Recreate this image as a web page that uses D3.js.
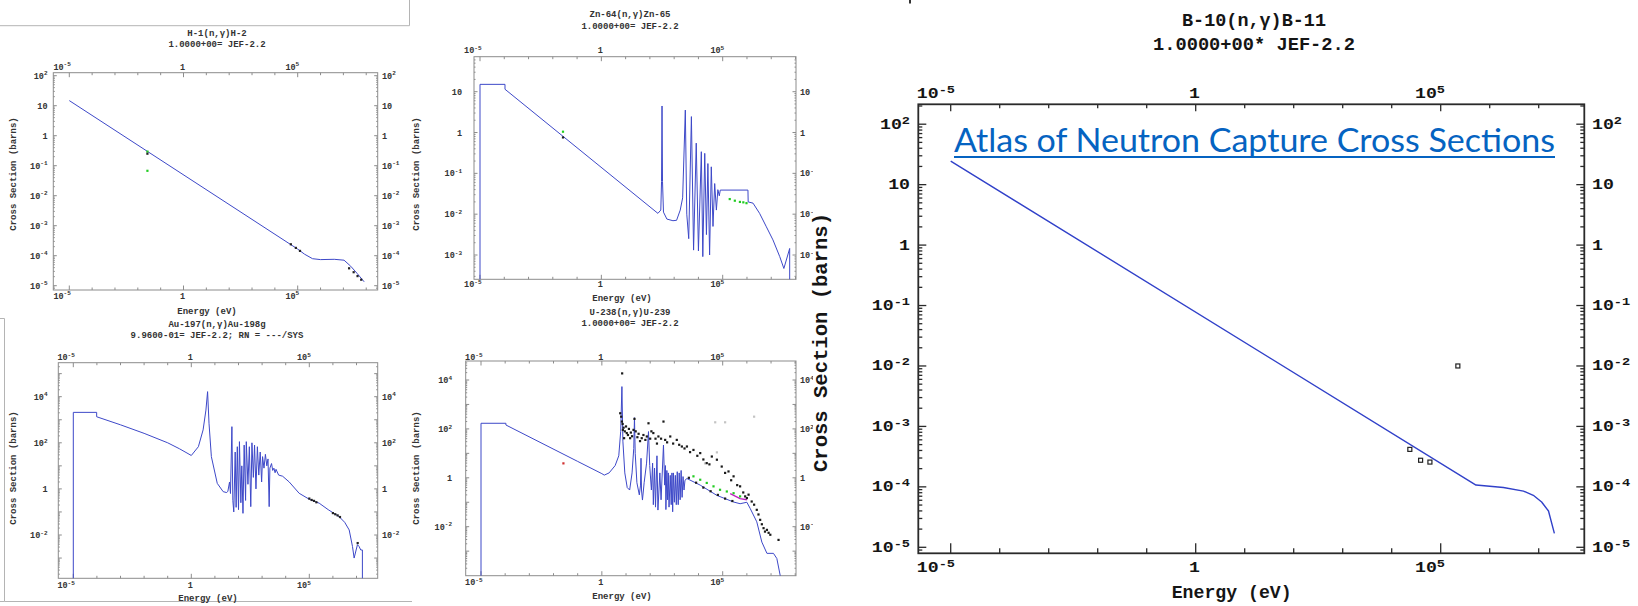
<!DOCTYPE html>
<html>
<head>
<meta charset="utf-8">
<script src="https://cdn.jsdelivr.net/npm/d3@7/dist/d3.min.js"></script>
<style>
  html, body { margin: 0; padding: 0; background: #ffffff; }
  svg { display: block; }
</style>
</head>
<body>
<svg id="atlas" width="1638" height="606"></svg>
<script>
// All series are [log10 energy (eV), log10 cross section (barns)].
// A value of -9 just means "drops off the bottom of the frame".

// H-1(n,g)H-2
var h1Curve = [[-5, 1.17], [5, -3.78], [5.3, -3.95], [5.65, -4.1], [6, -4.13], [6.6, -4.12],
  [7.03, -4.15], [7.32, -4.35], [7.6, -4.59], [7.91, -4.87]];
var h1Green = [[-1.58, -0.53], [-1.58, -1.17]];
var h1Black = [[-1.58, -0.6], [4.7, -3.62], [4.92, -3.74], [5.1, -3.84],
  [7.25, -4.42], [7.45, -4.55], [7.62, -4.68], [7.78, -4.8]];

// Zn-64(n,g)Zn-65
var zn64Curve = [[-5, -9], [-5, 1.18], [-3.97, 1.18], [-3.97, 1.06], [2.33, -1.98], [2.45, -1.9],
  [2.48, -1.2], [2.5, 0.65], [2.52, -1.2], [2.56, -1.95], [2.7, -2.12], [2.95, -2.16], [3.1, -2.15],
  [3.25, -1.9], [3.35, -1.6], [3.46, 0.55], [3.52, -2.0], [3.6, -2.6], [3.71, 0.39], [3.8, -2.88],
  [3.91, -0.26], [4.0, -2.9], [4.12, -0.47], [4.18, -3.04], [4.26, -0.51], [4.33, -2.5],
  [4.39, -0.76], [4.46, -3.0], [4.53, -0.84], [4.6, -2.3], [4.67, -1.25], [4.74, -1.9],
  [4.8, -1.4], [4.86, -1.55], [4.9, -1.41], [6.04, -1.41], [6.05, -1.7], [6.25, -1.73],
  [6.52, -1.98], [6.8, -2.31], [7.07, -2.63], [7.35, -3.04], [7.52, -3.33], [7.76, -2.84], [7.76, -9]];
var zn64Green = [[-1.58, 0.02], [5.29, -1.63], [5.5, -1.67], [5.71, -1.7], [5.85, -1.71], [5.98, -1.73]];
var zn64Black = [[-1.58, -0.12]];

// Au-197(n,g)Au-198g
var au197Curve = [[-5, -9], [-5, 3.32], [-4.01, 3.32], [-4.01, 3.13], [-3, 2.78], [-2, 2.41],
  [-1, 2.0], [-0.5, 1.74], [0, 1.45], [0.3, 1.83], [0.5, 2.56], [0.62, 3.42], [0.69, 4.22],
  [0.75, 2.85], [0.85, 1.4], [1.1, 0.24], [1.35, -0.12], [1.5, -0.16], [1.55, -0.1], [1.62, 0.3],
  [1.66, -0.2], [1.72, 2.7], [1.76, -0.5], [1.8, -1.0], [1.86, 1.6], [1.9, -0.8], [1.95, 1.83],
  [2.0, -0.9], [2.04, 2.05], [2.1, -0.6], [2.14, 1.0], [2.19, -1.06], [2.24, 1.9], [2.3, -0.5],
  [2.33, 2.05], [2.4, 0.2], [2.46, 1.83], [2.52, -0.77], [2.57, 2.0], [2.63, 0.5], [2.68, 1.9],
  [2.74, 0.0], [2.8, 1.83], [2.86, 0.6], [2.92, 1.6], [2.98, 0.3], [3.02, 1.4], [3.08, 0.9],
  [3.14, 1.5], [3.2, 1.0], [3.25, 1.3], [3.3, -0.77], [3.33, 0.9], [3.4, 1.1], [3.45, 0.8],
  [3.5, 0.9], [3.55, 0.7], [3.59, 0.85], [3.7, 0.6], [3.87, 0.55], [4.15, 0.3], [4.57, -0.19],
  [5.0, -0.45], [5.42, -0.62], [5.8, -0.9], [6.26, -1.2], [6.5, -1.45], [6.69, -1.78], [6.83, -2.5],
  [6.9, -3.0], [7.04, -2.42], [7.11, -2.5], [7.18, -2.65], [7.25, -2.65], [7.25, -9]];
var au197Black = [[5.0, -0.42], [5.1, -0.48], [5.2, -0.52], [5.3, -0.58], [6.0, -1.05],
  [6.1, -1.1], [6.2, -1.15], [6.3, -1.22], [7.05, -2.35]];

// U-238(n,g)U-239
var u238Curve = [[-5, -9], [-5, 2.23], [-3.97, 2.23], [-3.97, 2.16], [-1, 0.67], [0, 0.17], [0.1, 0.11],
  [0.3, 0.2], [0.55, 0.5], [0.7, 0.9], [0.78, 1.9], [0.83, 3.73], [0.87, 1.5], [0.95, 0.2],
  [1.05, -0.4], [1.15, -0.5], [1.25, 0.2], [1.32, 1.2], [1.35, 2.46], [1.38, 1.0], [1.45, -0.2],
  [1.55, -0.7], [1.6, -0.3], [1.62, 0.8], [1.64, -0.5], [1.68, -0.91], [1.75, -0.2], [1.85, 0.6],
  [1.93, 1.89], [1.98, 0.5], [2.05, -0.5], [2.1, 0.6], [2.13, -1.1], [2.18, 0.4], [2.22, -1.2],
  [2.28, 0.9], [2.32, -1.32], [2.4, 0.2], [2.45, -0.9], [2.55, 1.34], [2.6, -0.3], [2.63, 0.5],
  [2.65, -1.3], [2.69, 0.3], [2.72, -0.9], [2.75, 0.2], [2.78, -1.2], [2.83, 0.1], [2.87, -1.1],
  [2.9, 0.2], [2.93, -1.39], [2.96, 0.2], [3.0, -1.0], [3.04, 0.1], [3.08, -1.1], [3.12, 0.25],
  [3.16, -1.1], [3.2, 0.2], [3.24, -0.9], [3.28, 0.3], [3.32, -0.8], [3.36, 0.05], [3.4, -0.5],
  [3.44, -0.1], [3.52, -0.03], [4.07, -0.3], [4.76, -0.72], [5.45, -0.99], [5.72, -1.06],
  [6.0, -1.0], [6.14, -1.26], [6.41, -1.8], [6.62, -2.63], [6.83, -3.09], [7.1, -3.09],
  [7.24, -3.3], [7.38, -4.0], [7.38, -9]];
var u238Black = [[0.84, 4.27], [0.76, 2.64], [0.8, 2.5], [0.83, 2.3], [0.86, 2.2], [0.87, 1.96],
  [0.9, 2.05], [0.92, 1.62], [0.95, 1.9], [1.0, 2.1], [1.03, 1.83], [1.08, 1.75], [1.12, 2.0],
  [1.17, 1.62], [1.2, 1.85], [1.25, 1.7], [1.31, 1.96], [1.35, 2.41], [1.4, 1.9], [1.47, 1.66],
  [1.52, 1.8], [1.58, 1.5], [1.65, 1.62], [1.72, 1.75], [1.8, 1.55], [1.86, 1.69], [1.93, 2.23],
  [2.0, 1.6], [2.05, 1.9], [2.13, 1.83], [2.22, 1.6], [2.28, 1.4], [2.34, 1.69], [2.45, 1.6],
  [2.55, 2.3], [2.62, 1.55], [2.7, 1.45], [2.83, 1.69], [2.95, 1.4], [3.1, 1.55], [3.2, 1.35],
  [3.31, 1.28], [3.42, 1.2], [3.52, 1.28], [3.65, 1.05], [3.79, 1.14], [3.95, 0.9], [4.07, 1.01],
  [4.2, 0.75], [4.34, 0.6], [4.45, 0.55], [4.55, 0.87], [4.76, 0.74], [4.96, 0.46], [5.1, 0.2],
  [5.24, 0.26], [5.35, -0.1], [5.45, 0.06], [5.6, -0.3], [5.72, -0.35], [5.85, -0.6], [5.93, -0.76],
  [6.0, -0.83], [6.07, -0.69], [6.2, -0.97], [6.3, -1.1], [6.41, -1.31], [6.48, -1.5],
  [6.55, -1.72], [6.62, -1.9], [6.69, -2.06], [6.75, -2.2], [6.83, -2.13], [6.9, -2.25],
  [6.97, -2.33], [7.31, -2.54], [3.6, 0.0], [3.9, -0.2], [4.2, -0.4], [4.5, -0.55], [4.8, -0.7],
  [5.1, -0.85], [5.4, -0.95]];
var u238Green = [[3.79, 0.06], [4.07, -0.08], [4.34, -0.21], [4.62, -0.35], [4.89, -0.49],
  [5.17, -0.56], [5.45, -0.63], [5.72, -0.76]];
var u238Magenta = [[5.31, -0.65], [5.72, -0.85], [6.0, -0.9]];
var u238Gray = [[4.27, 0.59], [4.76, 1.04], [4.69, 2.27], [5.1, 2.27], [6.3, 2.5]];
var u238Red = [[-1.59, 0.59]];

// B-10(n,g)B-11
var b10Curve = [[-5, 1.39], [5.72, -3.97], [6.28, -4.01], [6.69, -4.07], [6.89, -4.14],
  [7.06, -4.25], [7.2, -4.40], [7.32, -4.77]];
var b10Points = [[4.37, -3.38], [4.59, -3.56], [4.78, -3.59], [5.35, -2.0]];

var labeledDecadesX = [-5, 0, 5];

var mono = "'Liberation Mono', 'DejaVu Sans Mono', monospace";

var smallStyle = {frame: "#8c8c8c", fw: 1, text: "#333", fs: 8.5, sfs: 6, sdy: -3.3, sx: 1, tfs: 9,
  xMajTop: 4.5, xMinTop: 2.5, xMajBot: 4.5, xMinBot: 2.5, yMaj: 3.5, yMin: 1.5,
  line: "#3d48c8", lw: 1, dot: 2.2};
var bigStyle = {frame: "#2a2a2a", fw: 1.8, text: "#151515", fs: 14, sfs: 10.5, sdy: -5, sx: 1.3, tfs: 18,
  xMajTop: 7, xMinTop: 4, xMajBot: 10, xMinBot: 5, yMaj: 8, yMin: 4,
  line: "#3141c9", lw: 1.4, dot: 4};

var svg = d3.select("#atlas");
svg.append("rect").attr("width", 1638).attr("height", 606).attr("fill", "#fff");

// left-over borders of the pasted screenshots
var boxes = svg.append("g").attr("stroke", "#b4b4b4").attr("fill", "none").attr("stroke-width", 1);
boxes.append("path").attr("d", "M0,25.7H409.5V0");
boxes.append("path").attr("d", "M0,318.5H4.5V601.5H0 M4.5,601.5H412");
svg.append("line").attr("x1", 910).attr("x2", 910).attr("y1", 0).attr("y2", 3.5)
    .attr("stroke", "#333").attr("stroke-width", 2);

// the middle screenshots are cut on their right edge
svg.append("clipPath").attr("id", "midcut").append("rect")
    .attr("x", 420).attr("y", 0).attr("width", 393).attr("height", 606);
var midLayer = svg.append("g").attr("clip-path", "url(#midcut)");

function pow10(v) { return Math.pow(10, v); }

function expLabel(parent, e, x, y, anchor, st) {
  var t = parent.append("text")
      .attr("transform", "translate(" + x + "," + y + ") scale(" + st.sx + ",1)")
      .attr("text-anchor", anchor)
      .attr("font-size", st.fs)
      .attr("fill", st.text);
  t.append("tspan").text(e === 0 ? "1" : "10");
  if (e !== 0 && e !== 1) {
    t.append("tspan").attr("font-size", st.sfs).attr("dy", st.sdy).text(e);
  }
}

function drawPanel(host, p) {
  var st = p.big ? bigStyle : smallStyle;
  var f = p.frame;
  var g = host.append("g").attr("font-family", mono).attr("font-weight", "bold");

  var x = d3.scaleLog().domain([1e-5, 1e5]).range(p.xPix);
  var y = d3.scaleLog().domain([pow10(p.yRef[0]), pow10(p.yRef[2])]).range([p.yRef[1], p.yRef[3]]);

  // titles
  [[p.title, p.titleY, p.titleLen], [p.sub, p.subY, p.subLen]].forEach(function(t) {
    var s = g.append("text").attr("x", p.titleX).attr("y", t[1])
        .attr("text-anchor", "middle").attr("font-size", st.tfs).attr("fill", st.text).text(t[0]);
    if (t[2]) s.attr("textLength", t[2]).attr("lengthAdjust", "spacingAndGlyphs");
  });

  var ticks = g.append("g").attr("stroke", st.frame).attr("stroke-width", p.big ? 1.3 : 1);

  // x decades, top and bottom
  var eLo = Math.ceil(Math.log10(x.invert(f.l))), eHi = Math.floor(Math.log10(x.invert(f.r)));
  d3.range(eLo, eHi + 1).forEach(function(e) {
    var px = x(pow10(e)), major = labeledDecadesX.indexOf(e) >= 0;
    ticks.append("line").attr("x1", px).attr("x2", px)
        .attr("y1", f.t).attr("y2", f.t + (major ? st.xMajTop : st.xMinTop));
    ticks.append("line").attr("x1", px).attr("x2", px)
        .attr("y1", f.b).attr("y2", f.b - (major ? st.xMajBot : st.xMinBot));
    if (major) {
      expLabel(g, e, px + p.labDx, p.topLabY, "end", st);
      expLabel(g, e, px + p.labDx, p.botLabY, "end", st);
    }
  });

  // y decades with log minor ticks, left and right
  var yLo = Math.floor(Math.log10(y.invert(f.b))), yHi = Math.ceil(Math.log10(y.invert(f.t)));
  d3.range(yLo, yHi + 1).forEach(function(e) {
    d3.range(1, 10).forEach(function(m) {
      var py = y(m * pow10(e));
      if (py < f.t + 0.5 || py > f.b - 0.5) return;
      var len = m === 1 ? st.yMaj : st.yMin;
      ticks.append("line").attr("x1", f.l).attr("x2", f.l + len).attr("y1", py).attr("y2", py);
      ticks.append("line").attr("x1", f.r).attr("x2", f.r - len).attr("y1", py).attr("y2", py);
    });
  });
  p.yLabels.forEach(function(e) {
    var py = y(pow10(e)) + p.labDy;
    expLabel(g, e, p.leftLabX, py, "end", st);
    expLabel(g, e, p.rightLabX, py, "start", st);
  });

  g.append("rect").attr("x", f.l).attr("y", f.t)
      .attr("width", f.r - f.l).attr("height", f.b - f.t)
      .attr("fill", "none").attr("stroke", st.frame).attr("stroke-width", st.fw);

  // axis titles
  var en = g.append("text").attr("x", p.energy[0]).attr("y", p.energy[1])
      .attr("text-anchor", "middle").attr("font-size", st.tfs).attr("fill", st.text).text("Energy (eV)");
  if (p.energy[2]) en.attr("textLength", p.energy[2]).attr("lengthAdjust", "spacingAndGlyphs");
  p.sideX.forEach(function(sx) {
    var s = g.append("text")
        .attr("transform", "translate(" + sx + "," + p.sideY + ") rotate(-90)")
        .attr("text-anchor", "middle").attr("dy", "0.35em")
        .attr("font-size", p.sideFs || st.tfs).attr("fill", st.text)
        .text("Cross Section (barns)");
    if (p.sideLen) s.attr("textLength", p.sideLen).attr("lengthAdjust", "spacingAndGlyphs");
  });

  // data
  var clipId = "clip-" + p.id;
  g.append("clipPath").attr("id", clipId).append("rect")
      .attr("x", f.l).attr("y", f.t).attr("width", f.r - f.l).attr("height", f.b - f.t);
  var plot = g.append("g").attr("clip-path", "url(#" + clipId + ")");
  var line = d3.line()
      .x(function(d) { return x(pow10(d[0])); })
      .y(function(d) { return y(pow10(d[1])); });

  (p.extraLines || []).forEach(function(l) {
    plot.append("path").datum(l.data).attr("d", line)
        .attr("fill", "none").attr("stroke", l.color).attr("stroke-width", 1.4);
  });
  plot.append("path").datum(p.curve).attr("d", line)
      .attr("fill", "none").attr("stroke", st.line).attr("stroke-width", st.lw)
      .attr("stroke-linejoin", "round");

  p.points.forEach(function(set) {
    plot.append("g").selectAll("rect").data(set.data).enter().append("rect")
        .attr("x", function(d) { return x(pow10(d[0])) - st.dot / 2; })
        .attr("y", function(d) { return y(pow10(d[1])) - st.dot / 2; })
        .attr("width", st.dot).attr("height", st.dot)
        .attr("fill", set.open ? "none" : set.color)
        .attr("stroke", set.open ? set.color : "none")
        .attr("stroke-width", set.open ? 1.2 : 0);
  });
}

drawPanel(svg, {
  id: "h1", title: "H-1(n,\u03b3)H-2", sub: "1.0000+00= JEF-2.2", titleX: 217, titleY: 35.5, subY: 46.5,
  frame: {l: 53.3, r: 377.7, t: 72.7, b: 290}, xPix: [69.3, 297.7], yRef: [2, 75.7, -5, 285.7],
  yLabels: [2, 1, 0, -1, -2, -3, -4, -5], topLabY: 69.5, botLabY: 298.5, labDx: 1.5,
  leftLabX: 47.5, rightLabX: 382, labDy: 3, energy: [207, 314], sideX: [13, 416], sideY: 174,
  curve: h1Curve,
  points: [{data: h1Green, color: "#22cc22"}, {data: h1Black, color: "#222"}]
});

drawPanel(midLayer, {
  id: "zn64", title: "Zn-64(n,\u03b3)Zn-65", sub: "1.0000+00= JEF-2.2", titleX: 630, titleY: 16.5, subY: 29,
  frame: {l: 474, r: 796, t: 56.7, b: 279.3}, xPix: [480, 722.7], yRef: [1, 91.7, -3, 255],
  yLabels: [1, 0, -1, -2, -3], topLabY: 53, botLabY: 287, labDx: 1.5,
  leftLabX: 462, rightLabX: 800, labDy: 3, energy: [622, 301], sideX: [], sideY: 170,
  curve: zn64Curve,
  points: [{data: zn64Green, color: "#22cc22"}, {data: zn64Black, color: "#222"}]
});

drawPanel(svg, {
  id: "au197", title: "Au-197(n,\u03b3)Au-198g", sub: "9.9600-01= JEF-2.2; RN = ---/SYS",
  titleX: 217, titleY: 327, subY: 338,
  frame: {l: 58.3, r: 377.7, t: 362.7, b: 578.3}, xPix: [73.3, 309.3], yRef: [4, 396.7, -2, 535],
  yLabels: [4, 2, 0, -2], topLabY: 360, botLabY: 588, labDx: 1.5,
  leftLabX: 47.5, rightLabX: 382, labDy: 3, energy: [208, 601], sideX: [13, 416], sideY: 468,
  curve: au197Curve,
  points: [{data: au197Black, color: "#222"}]
});

drawPanel(midLayer, {
  id: "u238", title: "U-238(n,\u03b3)U-239", sub: "1.0000+00= JEF-2.2", titleX: 630, titleY: 315, subY: 326,
  frame: {l: 465.7, r: 796, t: 361, b: 575.7}, xPix: [481, 722.7], yRef: [4, 380, -2, 526.7],
  yLabels: [4, 2, 0, -2], topLabY: 360, botLabY: 585, labDx: 1.5,
  leftLabX: 452, rightLabX: 800, labDy: 3, energy: [622, 599], sideX: [], sideY: 468,
  curve: u238Curve,
  extraLines: [{data: u238Magenta, color: "#c020c0"}],
  points: [{data: u238Gray, color: "#c4c4c4"}, {data: u238Black, color: "#1a1a1a"},
           {data: u238Green, color: "#22cc22"}, {data: u238Red, color: "#d03030"}]
});

drawPanel(svg, {
  id: "b10", big: true, title: "B-10(n,\u03b3)B-11", sub: "1.0000+00* JEF-2.2",
  titleX: 1254, titleY: 26, subY: 50, titleLen: 144, subLen: 202,
  frame: {l: 918.3, r: 1584.3, t: 104.3, b: 553.3}, xPix: [950.7, 1440.7], yRef: [2, 124.2, -5, 547.3],
  yLabels: [2, 1, 0, -1, -2, -3, -4, -5], topLabY: 98, botLabY: 572, labDx: 4.3,
  leftLabX: 910, rightLabX: 1592, labDy: 4.5, energy: [1231.7, 598, 120],
  sideX: [820], sideY: 342.5, sideFs: 20, sideLen: 259,
  curve: b10Curve,
  points: [{data: b10Points, color: "#222", open: true}]
});

// hyperlink pasted on top of the big plot
var link = svg.append("g");
link.append("text").attr("x", 954).attr("y", 151.7)
    .attr("font-family", "Lato, 'Open Sans', sans-serif").attr("font-size", 33)
    .attr("fill", "#0563C1")
    .attr("textLength", 601).attr("lengthAdjust", "spacingAndGlyphs")
    .text("Atlas of Neutron Capture Cross Sections");
link.append("rect").attr("x", 954).attr("y", 156).attr("width", 601).attr("height", 2)
    .attr("fill", "#0563C1");
</script>
</body>
</html>
